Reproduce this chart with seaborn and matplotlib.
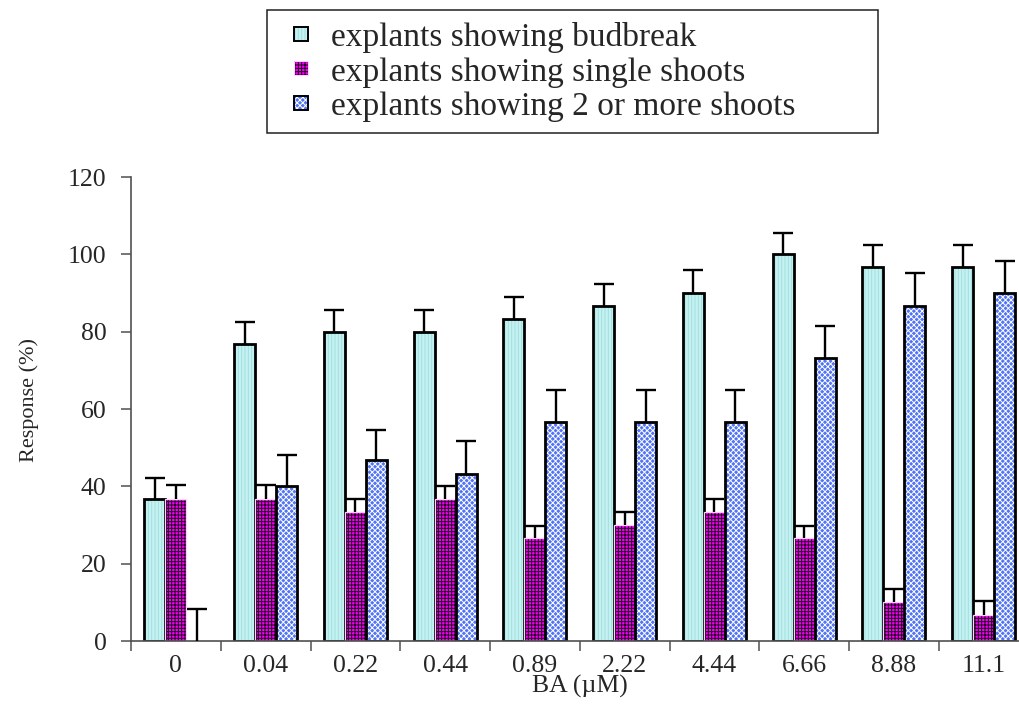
import numpy as np
import pandas as pd
import matplotlib
matplotlib.use("Agg")
import matplotlib.pyplot as plt
import seaborn as sns
from matplotlib.patches import Rectangle, Patch
from matplotlib.ticker import FixedLocator

# BA concentrations (µM)
ba_levels = ["0", "0.04", "0.22", "0.44", "0.89", "2.22", "4.44", "6.66", "8.88", "11.1"]

# Response (%) and standard errors
budbreak = [36.7, 76.7, 80.0, 80.0, 83.3, 86.7, 90.0, 100.0, 96.7, 96.7]
budbreak_se = [5.5, 5.8, 5.7, 5.5, 5.6, 5.7, 6.0, 5.6, 5.6, 5.6]
single = [36.7, 36.7, 33.3, 36.7, 26.7, 30.0, 33.3, 26.7, 10.0, 6.7]
single_se = [3.6, 3.6, 3.3, 3.5, 3.0, 3.3, 3.4, 3.0, 3.5, 3.7]
multiple = [0.0, 40.0, 46.7, 43.3, 56.7, 56.7, 56.7, 73.3, 86.7, 90.0]
multiple_se = [8.3, 8.1, 7.9, 8.5, 8.3, 8.3, 8.3, 8.2, 8.4, 8.4]

series_names = [
    "explants showing budbreak",
    "explants showing single shoots",
    "explants showing 2 or more shoots",
]
y_ticks = [0, 20, 40, 60, 80, 100, 120]

values = [budbreak, single, multiple]
errors = [budbreak_se, single_se, multiple_se]

df = pd.DataFrame({
    "BA": np.tile(ba_levels, 3),
    "series": np.repeat(series_names, len(ba_levels)),
    "value": np.concatenate(values),
})

# fill, hatch, hatch colour, outline colour, outline width
styles = [
    dict(face="#c4f2f2", hatch="|||||", hatchc="#a4dede", edge="black", lw=2.0),
    dict(face="#f800f8", hatch="+++++", hatchc="#1a001a", edge="#ffd0ff", lw=0.9),
    dict(face="#5274f6", hatch="xxxxxx", hatchc="white", edge="black", lw=2.0),
]

sns.set_style("ticks")
plt.rcParams["font.family"] = ["Liberation Serif", "DejaVu Serif"]
plt.rcParams["hatch.linewidth"] = 0.7

fig = plt.figure(figsize=(10.19, 7.04), dpi=100)
ax = fig.add_axes([131 / 1019, 1 - 641 / 704, 897.5 / 1019, 464 / 704])

sns.barplot(
    data=df, x="BA", y="value", hue="series",
    order=ba_levels, hue_order=series_names,
    palette=[s["face"] for s in styles], saturation=1,
    width=0.7, errorbar=None, legend=False, ax=ax,
)

for cont, st, err in zip(ax.containers, styles, errors):
    xs, ys = [], []
    for bar in cont:
        bar.set_facecolor(st["face"])
        bar.set_hatch(st["hatch"])
        bar.set_edgecolor(st["hatchc"])
        bar.set_linewidth(0)
        h = bar.get_height()
        if h > 0:
            ax.add_patch(Rectangle(bar.get_xy(), bar.get_width(), h, fill=False,
                                   edgecolor=st["edge"], linewidth=st["lw"],
                                   zorder=bar.get_zorder() + 0.1))
        xs.append(bar.get_x() + bar.get_width() / 2)
        ys.append(h)
    ys = np.array(ys)
    eb = ax.errorbar(xs, ys, yerr=[np.zeros_like(ys), np.array(err)], fmt="none",
                     ecolor="black", elinewidth=1.7, capsize=7.3, capthick=1.7, zorder=4)
    for cap in eb[1]:
        if np.allclose(cap.get_ydata(), ys):
            cap.set_visible(False)

ax.set_xlim(-0.5, len(ba_levels) - 0.5)
ax.set_ylim(0, 120)
ax.set_yticks(y_ticks)
ax.set_yticklabels([str(t) for t in y_ticks])

# category boundaries carry the x tick marks
ax.xaxis.set_minor_locator(FixedLocator(np.arange(len(ba_levels) + 1) - 0.5))
ax.tick_params(axis="x", which="major", length=0, pad=10, labelsize=18.5)
ax.tick_params(axis="x", which="minor", length=7, width=1.1, color="#505050", direction="out")
ax.tick_params(axis="y", which="major", length=7.2, width=1.1, color="#505050",
               direction="out", pad=10.5, labelsize=18.5)

for side in ["top", "right"]:
    ax.spines[side].set_visible(False)
for side in ["left", "bottom"]:
    ax.spines[side].set_color("#505050")
    ax.spines[side].set_linewidth(1.2)

ax.set_xlabel("BA (µM)", fontsize=18.5)
ax.xaxis.set_label_coords(0.5, -0.073)
ax.set_ylabel("Response (%)", fontsize=16)
ax.yaxis.set_label_coords(-0.103, 0.52)

handles = [
    (Patch(facecolor=s["face"], hatch=s["hatch"], edgecolor=s["hatchc"], linewidth=0),
     Patch(fill=False, edgecolor=s["edge"], linewidth=1.4 if s["edge"] == "black" else 0.8))
    for s in styles
]
leg = fig.legend(
    handles, series_names, loc="upper left",
    bbox_to_anchor=(294 / 1019, 1 - 22 / 704),
    fontsize=24, frameon=False,
    handlelength=0.43, handleheight=0.27, handletextpad=0.68,
    labelspacing=0.12, borderpad=0, borderaxespad=0,
)
# box around the key
fig.add_artist(Rectangle((267 / 1019, 1 - 132.5 / 704), (878 - 267) / 1019, 122.5 / 704,
                         transform=fig.transFigure, fill=False,
                         edgecolor="#202020", linewidth=1.1))

fig.savefig("out.png", dpi=100)
